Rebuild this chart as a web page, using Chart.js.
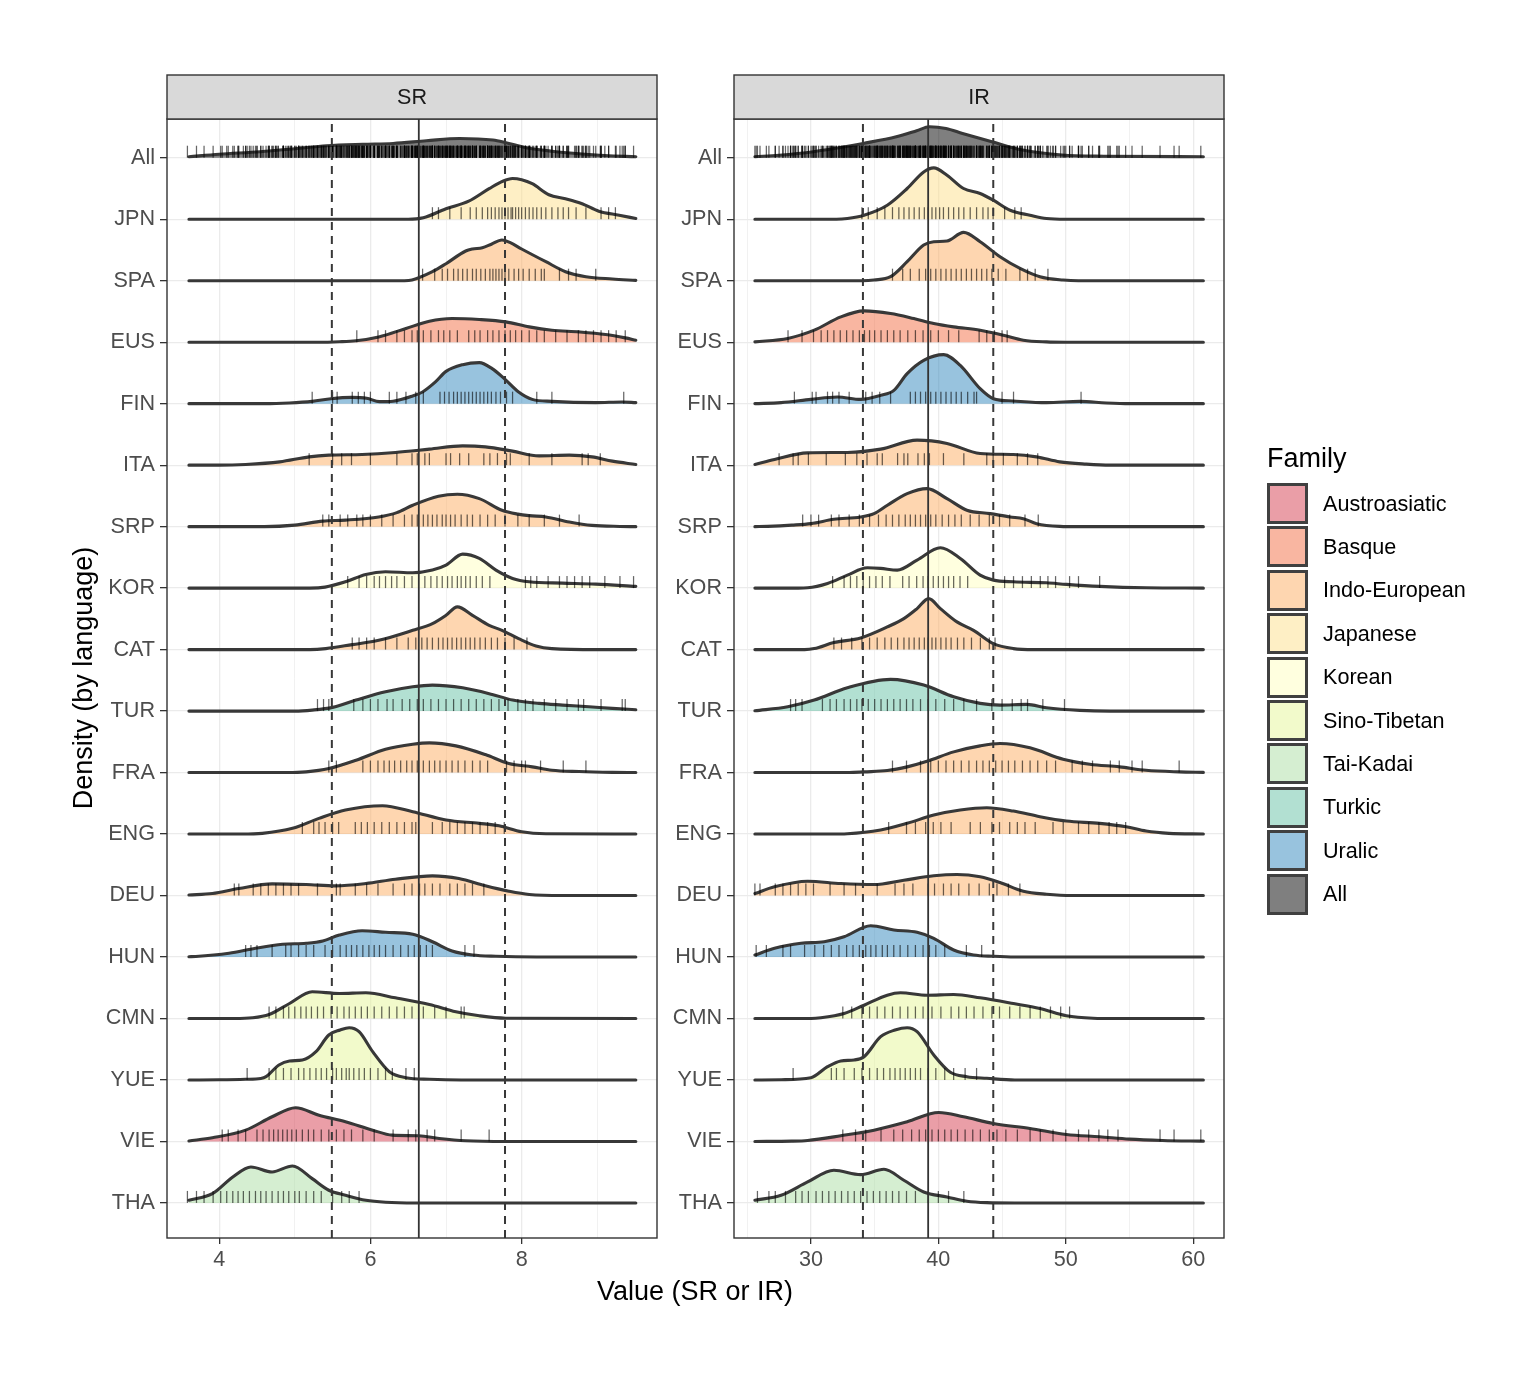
<!DOCTYPE html>
<html><head><meta charset="utf-8">
<script src="https://cdn.jsdelivr.net/npm/chart.js@4.4.0/dist/chart.umd.min.js"></script>
<style>
html,body{margin:0;padding:0;background:#fff;}
#wrap{position:relative;width:1540px;height:1374px;overflow:hidden;font-family:'Liberation Sans',Arial,Helvetica,sans-serif;}
canvas{position:absolute;left:0;top:0;}
.t{position:absolute;white-space:nowrap;color:#000;}
.key{position:absolute;box-sizing:border-box;width:41px;height:41px;border:3px solid #404040;}
</style></head><body>
<div id="wrap">
<canvas id="c1" width="1540" height="1374"></canvas>
<canvas id="c2" width="1540" height="1374"></canvas>
<div class="t" id="ytitle" style="left:-117px;top:663px;width:400px;height:30px;line-height:30px;text-align:center;font-size:27px;transform:rotate(-90deg);">Density (by language)</div>
<div class="t" id="xtitle" style="left:495px;top:1276px;width:400px;height:30px;line-height:30px;text-align:center;font-size:27px;">Value (SR or IR)</div>
<div class="t" id="ltitle" style="left:1267px;top:443px;height:30px;line-height:30px;font-size:27px;">Family</div>
<div id="legend"></div>
</div>
<script>
// ---------- categories ----------
const languages = ['All','JPN','SPA','EUS','FIN','ITA','SRP','KOR','CAT','TUR','FRA','ENG','DEU','HUN','CMN','YUE','VIE','THA'];
const languageFamily = ['All','Japanese','Indo-European','Basque','Uralic','Indo-European','Indo-European','Korean','Indo-European','Turkic','Indo-European','Indo-European','Indo-European','Uralic','Sino-Tibetan','Sino-Tibetan','Austroasiatic','Tai-Kadai'];
const families = ['Austroasiatic','Basque','Indo-European','Japanese','Korean','Sino-Tibetan','Tai-Kadai','Turkic','Uralic','All'];
const familyColors = ['#D53E4F','#F46D43','#FDAE61','#FEE08B','#FFFFBF','#E6F598','#ABDDA4','#66C2A5','#3288BD','#000000'];

// ---------- tick values ----------
const srMajorTicks = [4,6,8];
const srMinorTicks = [5,7,9];
const irMajorTicks = [30,40,50,60];
const irMinorTicks = [25,35,45,55];

// ---------- reference lines (mean and mean +/- sd) ----------
const srMeanLine = 6.64;
const srSdLines = [5.49,7.78];
const irMeanLine = 39.2;
const irSdLines = [34.08,44.31];

// ---------- SR ridge densities: [value, relative density] ----------
const srAllDensity = [[3.6,1],[4.0,3.5],[4.54,6],[5.0,9],[5.42,12],[5.9,13.5],[6.3,14.3],[6.74,17],[7.18,19.3],[7.62,17.7],[7.78,15.3],[8.06,10],[8.4,6.5],[8.72,4.3],[9.1,2.2],[9.51,1]];
const srJpnDensity = [[3.6,0],[6.5,0],[6.7,1.5],[7.0,10.5],[7.3,18],[7.57,30.5],[7.75,38],[7.88,40.7],[8.0,39.5],[8.14,35.5],[8.36,24.5],[8.58,20.5],[8.8,15.5],[9.02,8],[9.29,4],[9.51,0.7]];
const srSpaDensity = [[3.6,0],[6.45,0],[6.55,0.7],[6.82,9],[7.0,17],[7.26,29.7],[7.35,31.7],[7.48,33],[7.6,36.5],[7.74,40.7],[7.85,38],[8.0,31.7],[8.32,19],[8.58,9],[8.85,4],[9.2,1.7],[9.51,0.3]];
const srEusDensity = [[3.6,0],[5.3,0],[5.59,0.5],[5.81,1.5],[6.11,5.3],[6.47,13.7],[6.78,21],[7.08,23.7],[7.44,22.7],[7.79,20.3],[8.1,15.3],[8.4,12],[8.76,10.3],[9.11,7.7],[9.37,4.3],[9.51,2]];
const srFinDensity = [[3.6,0],[4.6,0],[4.93,0.7],[5.23,2.3],[5.48,5],[5.75,6.3],[5.95,5.5],[6.12,2],[6.3,2.5],[6.56,7.7],[6.69,11.7],[6.86,21.7],[7.0,32.3],[7.22,39],[7.44,41],[7.61,35],[7.77,25],[7.96,11.7],[8.14,4.3],[8.4,2.3],[8.98,1],[9.33,1.7],[9.51,1]];
const srItaDensity = [[3.6,0],[4.0,0],[4.35,0.7],[4.8,3.3],[5.19,8.3],[5.45,10],[5.89,10.7],[6.33,12.7],[6.78,16],[7.22,19.3],[7.52,18.3],[7.88,14],[8.23,9.3],[8.63,10],[8.93,8.3],[9.2,4],[9.51,0.7]];
const srSrpDensity = [[3.6,0],[4.6,0],[5.0,1.5],[5.37,5.5],[5.67,6.5],[6.11,9.7],[6.35,14],[6.56,21.4],[6.9,30.4],[7.15,32.4],[7.44,28],[7.74,16.4],[7.95,12.5],[8.1,11],[8.32,9.7],[8.63,4.7],[8.93,1.3],[9.3,0.2],[9.51,0]];
const srKorDensity = [[3.6,0],[5.2,0],[5.4,1],[5.67,6.3],[5.94,13.7],[6.2,16.3],[6.56,15.3],[6.82,18],[7.0,23],[7.22,34],[7.44,29.7],[7.66,18],[7.88,9.7],[8.1,6.3],[8.54,5],[8.98,4],[9.51,1.7]];
const srCatDensity = [[3.6,0],[5.2,0],[5.41,1],[5.76,5],[6.11,9.3],[6.56,19.3],[6.82,26],[7.0,34.3],[7.15,42.7],[7.35,34.3],[7.57,24.3],[7.74,19.3],[7.96,11],[8.19,3.7],[8.4,1],[9.0,0],[9.51,0]];
const srTurDensity = [[3.6,0],[5.0,0],[5.23,1],[5.5,3.7],[5.81,11],[6.2,19.3],[6.56,24.3],[6.82,26],[7.22,23.3],[7.61,16.7],[7.88,11],[8.23,7.7],[8.54,6],[8.89,4.3],[9.2,2.7],[9.51,1.3]];
const srFraDensity = [[3.6,0],[4.9,0],[5.15,0.7],[5.45,4],[5.81,12.3],[6.2,23.3],[6.56,28.3],[6.78,29.7],[7.13,26.7],[7.52,18],[7.83,9],[8.14,5.7],[8.4,2.3],[8.76,1],[9.2,0.2],[9.51,0]];
const srEngDensity = [[3.6,0],[4.3,0],[4.57,0.7],[4.97,5.7],[5.32,15.7],[5.67,24],[6.16,28.3],[6.56,22.3],[7.0,14],[7.44,10.7],[7.7,8.3],[8.0,2.3],[8.32,0.3],[9.51,0]];
const srDeuDensity = [[3.6,0.5],[3.91,2],[4.26,7],[4.7,11.7],[5.15,11],[5.54,9.7],[5.94,12],[6.33,16.3],[6.82,19.7],[7.17,17],[7.52,9.7],[7.83,4.3],[8.1,1],[8.54,0],[9.51,0]];
const srHunDensity = [[3.6,0.3],[3.69,0.5],[4.13,3.7],[4.48,8.7],[4.84,12.7],[5.15,13.7],[5.37,16],[5.59,22],[5.89,26.3],[6.2,24.7],[6.56,22.7],[6.82,15.3],[7.08,6],[7.35,2],[7.66,0.7],[8.2,0],[9.51,0]];
const srCmnDensity = [[3.6,0],[4.2,0],[4.44,0.7],[4.66,4],[4.93,15],[5.23,26.7],[5.59,25],[5.94,25.7],[6.33,20.7],[6.78,14],[7.13,6.7],[7.44,2.7],[7.79,0.3],[9.51,0]];
const srYueDensity = [[3.6,0],[4.0,0.2],[4.35,0.7],[4.55,1.5],[4.62,3.3],[4.79,15],[4.93,19],[5.1,20],[5.28,28.3],[5.45,45],[5.6,50],[5.72,52.3],[5.85,48.3],[6.03,28.3],[6.25,8.3],[6.47,2.3],[6.78,0.7],[7.2,0],[9.51,0]];
const srVieDensity = [[3.6,0.5],[3.91,3.7],[4.35,11.3],[4.7,24.7],[5.01,33.7],[5.32,26.3],[5.67,19.7],[6.03,11.3],[6.29,6.3],[6.64,5.7],[6.91,3],[7.26,0.7],[7.8,0],[9.51,0]];
const srThaDensity = [[3.6,2.7],[3.91,9.3],[4.18,26],[4.42,36],[4.7,31],[4.97,37],[5.23,24.3],[5.45,12.7],[5.67,7.7],[5.94,2.7],[6.2,0.7],[6.6,0],[9.51,0]];

// ---------- IR ridge densities ----------
const irAllDensity = [[25.6,1],[27.5,2.5],[30.2,6],[32.2,10],[34.1,14.3],[36.7,21],[38.3,27],[39.3,31],[40.6,29.3],[41.9,24.3],[44.2,16],[46.6,7.7],[49.7,2.7],[53,1.5],[60.8,1]];
const irJpnDensity = [[25.6,0],[32.0,0],[32.86,0.7],[34.17,4],[35.99,14],[37.55,30.7],[38.85,47.3],[39.64,51.3],[40.68,44],[41.98,30.7],[43.28,25.7],[44.32,19],[45.63,9],[47.19,4],[48.49,0.7],[50,0],[60.8,0]];
const irSpaDensity = [[25.6,0],[34.0,0],[34.95,0.7],[36.25,4],[37.55,19],[38.85,35.7],[39.64,39],[40.68,39.7],[41.98,48.3],[43.28,39],[44.84,24],[46.41,12.3],[47.97,4],[49.79,0.7],[51,0],[60.8,0]];
const irEusDensity = [[25.6,0.3],[28.18,3.7],[30.26,12],[32.34,25.3],[34.17,31.3],[36.25,28.7],[38.07,23.7],[39.64,18.7],[41.2,15.3],[43.28,12],[45.1,7],[46.67,2],[48.49,0.3],[50,0],[60.8,0]];
const irFinDensity = [[25.6,0],[27.66,1],[30.0,4.3],[32.08,6.7],[33.9,4.3],[35.47,8.3],[36.51,13.3],[37.55,30],[38.85,43.3],[40.42,49],[41.72,38.3],[43.28,15],[44.32,5],[45.89,2.7],[48.49,1],[51.1,2.3],[53.18,0.7],[55,0],[60.8,0]];
const irItaDensity = [[25.6,0.7],[27.14,5.7],[29.74,12.3],[32.86,12.7],[35.47,16],[38.33,25],[40.68,21.7],[43.28,11.7],[45.89,10.7],[47.71,8.3],[49.53,3.3],[51.61,1],[53.5,0],[60.8,0]];
const irSrpDensity = [[25.6,0],[26.6,0.3],[28.5,1.5],[30.0,3],[31.8,7.3],[33.9,9.7],[34.95,13],[36.0,21.4],[37.55,33],[39.11,38],[40.68,28],[42.24,16.4],[44.06,13],[45.63,9.7],[46.67,8],[47.71,3],[49.53,0.3],[51,0],[60.8,0]];
const irKorDensity = [[25.6,0],[29.0,0],[29.74,0.3],[31.3,4.7],[32.86,13],[34.43,20.3],[35.47,19.7],[36.77,18],[38.33,28],[40.16,40.3],[41.72,29.7],[43.28,13],[44.32,8],[45.89,6.3],[48.49,5.3],[50.05,3.7],[52.66,1.7],[56.3,0.3],[60.8,0]];
const irCatDensity = [[25.6,0],[29.5,0],[30.26,1],[31.8,7],[33.9,11.7],[35.99,22.7],[37.29,31],[38.33,41],[39.24,51],[40.16,41],[41.46,27.7],[42.76,19.3],[44.32,6],[45.89,1],[47.5,0],[60.8,0]];
const irTurDensity = [[25.6,0.3],[28.18,4.3],[30.26,11],[32.86,23.3],[36.25,31.7],[38.85,26],[41.2,14.3],[43.28,7.7],[44.84,6],[46.93,6.7],[48.49,3.3],[51.1,0.7],[53.5,0],[60.8,0]];
const irFraDensity = [[25.6,0],[33.0,0],[34.17,0.7],[35.99,2],[37.55,5.7],[39.11,11.3],[41.2,20.7],[43.28,26.7],[44.84,29],[47.19,24.7],[49.79,13.3],[51.88,8.3],[54.22,5.7],[56.3,2.3],[58.9,0.7],[60.8,0.2]];
const irEngDensity = [[25.6,0],[31.5,0],[32.86,0.3],[35.47,4],[37.55,10.7],[39.64,19],[41.72,24],[43.8,26.3],[45.89,23],[47.97,17.3],[50.05,13],[52.66,10.7],[54.74,7.3],[56.3,3],[58.1,0.7],[60.8,0]];
const irDeuDensity = [[25.6,2],[27.14,8.7],[29.74,14.3],[32.34,12],[34.95,11],[37.29,15.3],[39.64,19.7],[41.46,21],[43.28,18.7],[44.84,13],[46.67,4.3],[48.49,1.3],[50.5,0],[60.8,0]];
const irHunDensity = [[25.6,2],[27.14,8.7],[29.22,13.7],[31.04,15.3],[32.6,20.3],[34.69,31.3],[36.51,27],[38.33,24.7],[39.64,18.7],[41.2,7],[42.76,2],[44.32,0.7],[46,0],[60.8,0]];
const irCmnDensity = [[25.6,0],[30.0,0],[30.78,0.7],[32.6,5],[34.17,13.3],[35.99,23.3],[37.03,25.7],[39.11,23.3],[41.2,24],[43.28,20.7],[45.89,15],[47.97,10],[50.05,2.7],[52.14,0.3],[54,0],[60.8,0]];
const irYueDensity = [[25.6,0],[27.66,0.3],[30.0,2.3],[31.3,13.3],[32.34,19],[33.39,20],[34.17,23.3],[35.47,43.3],[36.6,50],[37.55,52.3],[38.33,48.3],[39.64,25],[40.94,7.7],[42.24,3.3],[43.8,1.7],[46,0],[60.8,0]];
const irVieDensity = [[25.6,0],[28.5,0.3],[29.74,1],[32.34,5.7],[34.95,11.3],[37.55,19.7],[40.03,29],[41.98,24.7],[44.32,18],[47.19,13],[50.05,7],[52.66,4.7],[55.0,2.3],[57.6,1],[60.8,0.3]];
const irThaDensity = [[25.6,2.7],[27.66,7.7],[29.74,21],[31.8,32.7],[33.9,28.3],[35.73,33.7],[37.29,22.7],[38.85,11],[40.68,6],[42.24,1.7],[43.8,0.3],[46,0],[60.8,0]];

// ---------- SR observations (rug) ----------
const srJpnRug = [6.82,6.9,7.05,7.2,7.32,7.4,7.48,7.55,7.6,7.65,7.7,7.74,7.78,7.82,7.86,7.88,7.92,7.96,8.0,8.05,8.1,8.15,8.2,8.26,8.32,8.4,8.48,8.55,8.62,8.72,8.85,9.05,9.15,9.24];
const srSpaRug = [6.69,6.85,6.95,7.02,7.1,7.16,7.22,7.28,7.35,7.4,7.46,7.52,7.58,7.62,7.66,7.7,7.74,7.78,7.83,7.9,7.96,8.02,8.1,8.18,8.26,8.3,8.5,8.62,8.72,8.98];
const srEusRug = [5.82,6.1,6.2,6.35,6.45,6.55,6.62,6.7,6.8,6.9,6.97,7.05,7.15,7.3,7.38,7.45,7.55,7.62,7.7,7.78,7.85,7.92,8.0,8.1,8.2,8.3,8.45,8.6,8.75,8.85,8.95,9.05,9.15,9.25,9.37];
const srFinRug = [5.23,5.5,5.56,5.76,5.84,5.92,6.0,6.25,6.35,6.47,6.6,6.7,6.92,6.98,7.04,7.1,7.15,7.2,7.25,7.3,7.35,7.4,7.45,7.5,7.55,7.6,7.66,7.72,7.8,7.88,8.2,8.4,9.35];
const srItaRug = [5.19,5.5,5.62,5.75,6.0,6.35,6.55,6.62,6.72,6.78,7.0,7.06,7.18,7.3,7.5,7.58,7.68,7.8,7.85,8.1,8.4,8.8,8.88,9.04];
const srSrpRug = [5.37,5.45,5.6,5.7,5.82,5.9,6.0,6.15,6.3,6.45,6.55,6.62,6.7,6.76,6.82,6.88,6.95,7.0,7.06,7.12,7.2,7.28,7.35,7.45,7.55,7.65,7.78,7.95,8.1,8.3,8.5,8.76];
const srKorRug = [5.7,5.85,5.95,6.05,6.12,6.2,6.28,6.35,6.45,6.55,6.72,6.8,6.88,6.95,7.02,7.08,7.15,7.2,7.26,7.32,7.4,7.48,7.58,8.05,8.12,8.2,8.35,8.5,8.6,8.7,8.8,8.9,9.1,9.3,9.48];
const srCatRug = [5.76,5.85,5.95,6.05,6.2,6.35,6.5,6.6,6.68,6.75,6.82,6.9,6.96,7.02,7.08,7.14,7.2,7.26,7.32,7.38,7.45,7.52,7.6,7.68,7.78,7.9,8.07];
const srTurRug = [5.3,5.38,5.45,5.78,5.9,6.0,6.1,6.22,6.3,6.42,6.52,6.62,6.7,6.8,6.9,7.0,7.1,7.2,7.3,7.4,7.5,7.6,7.7,7.82,7.95,8.05,8.15,8.3,8.45,8.6,8.75,8.82,9.05,9.33,9.37];
const srFraRug = [5.45,5.55,5.9,6.0,6.1,6.18,6.25,6.32,6.4,6.48,6.55,6.62,6.7,6.78,6.85,6.92,7.0,7.08,7.16,7.25,7.35,7.45,7.55,7.8,7.9,8.0,8.05,8.25,8.55,8.85];
const srEngRug = [5.1,5.25,5.32,5.4,5.5,5.58,5.8,5.88,5.96,6.05,6.15,6.25,6.35,6.45,6.55,6.6,6.82,6.95,7.05,7.15,7.25,7.35,7.45,7.55,7.65,7.77];
const srDeuRug = [4.2,4.26,4.45,4.55,4.65,4.75,4.85,4.95,5.05,5.3,5.55,5.6,5.8,5.95,6.1,6.3,6.45,6.55,6.65,6.72,6.82,6.92,7.05,7.15,7.25,7.35,7.5];
const srHunRug = [4.35,4.42,4.5,4.7,4.88,4.95,5.05,5.15,5.25,5.4,5.5,5.6,5.68,5.75,5.82,5.9,5.98,6.05,6.12,6.2,6.3,6.4,6.5,6.58,6.66,6.74,6.82,7.25,7.37];
const srCmnRug = [4.66,4.75,4.85,4.92,5.0,5.08,5.15,5.22,5.3,5.38,5.48,5.56,5.65,5.72,5.8,5.88,5.96,6.05,6.15,6.25,6.35,6.45,6.55,6.7,6.85,7.0,7.2,7.24];
const srYueRug = [4.37,4.66,4.75,4.85,4.95,5.05,5.12,5.2,5.28,5.35,5.42,5.5,5.55,5.62,5.68,5.72,5.78,5.85,5.92,6.0,6.1,6.2,6.29,6.47,6.58];
const srVieRug = [4.04,4.12,4.25,4.35,4.5,4.58,4.66,4.72,4.78,4.84,4.9,4.96,5.02,5.1,5.18,5.25,5.35,5.45,5.55,5.65,5.75,5.9,6.05,6.3,6.5,6.6,6.75,6.85,7.2,7.57];
const srThaRug = [3.58,3.7,3.8,3.92,4.02,4.1,4.18,4.25,4.32,4.4,4.48,4.55,4.62,4.7,4.78,4.85,4.92,5.0,5.06,5.15,5.25,5.35,5.5,5.62,5.72,5.85];

// ---------- IR observations (rug) ----------
const irJpnRug = [34.0,34.5,35.2,35.8,36.4,36.9,37.3,37.7,38.1,38.5,38.9,39.2,39.5,39.8,40.1,40.4,40.8,41.2,41.6,42.0,42.5,43.0,43.5,43.9,44.3,45.2,46.0,46.5];
const irSpaRug = [36.4,37.2,37.8,38.5,39.0,39.4,39.8,40.2,40.6,41.0,41.4,41.8,42.2,42.6,43.0,43.4,43.8,44.2,44.7,45.3,46.4,47.0,47.6,48.6];
const irEusRug = [28.2,29.3,30.2,30.8,31.3,31.8,32.3,32.8,33.3,33.8,34.2,34.6,35.0,35.5,36.0,36.5,37.0,37.6,38.2,38.8,39.4,40.0,40.8,41.6,43.2,43.8,44.4,45.0,45.4];
const irFinRug = [28.7,30.1,30.4,31.3,31.7,32.2,33.0,34.3,34.8,35.4,36.25,37.8,38.2,38.6,39.0,39.4,39.8,40.2,40.6,41.0,41.4,41.8,42.3,42.8,43.0,45.0,45.9,51.2];
const irItaRug = [27.5,28.6,29.0,29.8,31.2,32.7,33.6,34.4,35.2,35.6,36.8,37.3,37.6,38.4,38.9,39.3,40.4,42.0,43.8,44.3,45.1,46.2,47.0,47.8];
const irSrpRug = [29.35,30.0,30.6,31.6,32.2,33.0,33.8,34.6,35.3,35.9,36.4,36.9,37.4,37.8,38.2,38.6,39.0,39.4,39.8,40.3,40.8,41.3,41.8,42.5,43.2,44.0,44.8,45.6,46.8,47.84];
const irKorRug = [31.7,32.6,33.1,33.6,34.1,34.6,35.1,35.6,36.2,37.2,37.7,38.3,38.8,39.2,39.6,40.0,40.4,40.8,41.2,41.7,42.3,45.2,45.9,46.6,47.3,48.0,48.6,49.2,50.3,51.0,52.66];
const irCatRug = [31.8,32.4,33.2,34.0,34.6,35.2,35.8,36.3,36.8,37.3,37.7,38.1,38.5,38.9,39.2,39.5,39.8,40.2,40.6,41.0,41.5,42.0,42.6,43.3,44.0,44.45];
const irTurRug = [28.4,28.8,29.3,30.9,31.5,32.0,32.6,33.1,33.6,34.0,34.5,35.0,35.5,36.0,36.5,37.0,37.5,38.0,38.6,39.2,39.8,40.5,41.2,42.0,43.0,44.2,45.0,45.8,46.5,47.0,48.2,49.9];
const irFraRug = [36.4,37.5,38.6,39.4,40.0,40.6,41.2,41.8,42.4,43.0,43.5,44.0,44.5,45.0,45.5,46.0,46.6,47.2,47.8,48.5,49.2,50.5,51.3,52.1,53.5,54.2,55.2,56.0,58.9];
const irEngRug = [36.1,37.5,38.2,39.0,39.6,40.2,41.0,42.5,43.3,44.2,44.8,45.6,46.2,46.8,47.6,49.0,49.8,51.0,51.8,52.6,53.4,54.0,54.7];
const irDeuRug = [25.6,26.0,27.2,27.8,28.4,29.0,29.6,30.2,31.5,32.6,33.5,35.2,36.6,37.3,38.0,39.2,39.7,40.4,41.0,41.6,42.4,43.2,44.0,44.6,45.5,46.4];
const irHunRug = [25.7,26.5,27.8,28.4,29.5,30.3,31.0,31.6,32.2,32.8,33.3,33.8,34.3,34.7,35.1,35.6,36.0,36.5,37.0,37.6,38.2,38.8,39.3,39.8,40.5,42.2,43.4];
const irCmnRug = [32.5,33.2,34.0,34.6,35.2,35.8,36.4,37.0,37.6,38.2,38.8,39.5,40.2,41.0,41.6,42.2,42.8,43.5,44.2,44.8,45.6,46.4,47.2,48.0,48.8,49.6,50.3];
const irYueRug = [28.6,31.6,32.0,32.6,33.4,34.0,34.6,35.2,35.7,36.2,36.6,37.0,37.4,37.8,38.2,38.6,39.2,39.8,40.5,41.2,42.1,43.0];
const irVieRug = [32.5,33.5,34.3,35.5,36.5,37.2,37.9,38.5,39.0,39.5,40.0,40.5,41.0,41.5,42.1,42.7,43.3,44.0,44.6,45.3,46.2,47.2,48.0,49.0,50.0,51.0,51.8,52.6,53.3,54.1,57.4,58.5,60.6];
const irThaRug = [25.8,26.7,27.2,28.0,28.8,29.3,29.8,30.4,30.9,31.4,31.9,32.4,32.9,33.4,33.9,34.4,34.9,35.4,35.9,36.4,36.9,37.5,38.2,39.2,40.0,40.8,42.0];

// ---------- assembled per panel (same order as languages) ----------
const srDensities = [srAllDensity,srJpnDensity,srSpaDensity,srEusDensity,srFinDensity,srItaDensity,srSrpDensity,srKorDensity,srCatDensity,srTurDensity,srFraDensity,srEngDensity,srDeuDensity,srHunDensity,srCmnDensity,srYueDensity,srVieDensity,srThaDensity];
const irDensities = [irAllDensity,irJpnDensity,irSpaDensity,irEusDensity,irFinDensity,irItaDensity,irSrpDensity,irKorDensity,irCatDensity,irTurDensity,irFraDensity,irEngDensity,irDeuDensity,irHunDensity,irCmnDensity,irYueDensity,irVieDensity,irThaDensity];
const srLangRugs = [srJpnRug,srSpaRug,srEusRug,srFinRug,srItaRug,srSrpRug,srKorRug,srCatRug,srTurRug,srFraRug,srEngRug,srDeuRug,srHunRug,srCmnRug,srYueRug,srVieRug,srThaRug];
const irLangRugs = [irJpnRug,irSpaRug,irEusRug,irFinRug,irItaRug,irSrpRug,irKorRug,irCatRug,irTurRug,irFraRug,irEngRug,irDeuRug,irHunRug,irCmnRug,irYueRug,irVieRug,irThaRug];
const srRugs = [[].concat(...srLangRugs)].concat(srLangRugs);   // "All" = every observation
const irRugs = [[].concat(...irLangRugs)].concat(irLangRugs);

// ---------- drawing ----------
Chart.defaults.font.family = "'Liberation Sans', Arial, Helvetica, sans-serif";
const N = languages.length;
const ROW_SCALE = 61.47;   // density units per row spacing
const RUG_OFFSET = 0.098;  // rug glyph centre above baseline (row units)
const Y_MIN = 0.43, Y_MAX = 18.63;

function hexA(hex, a){
  const n = parseInt(hex.slice(1),16);
  return 'rgba(' + ((n>>16)&255) + ',' + ((n>>8)&255) + ',' + (n&255) + ',' + a + ')';
}

const panelDeco = {
  id:'panelDeco',
  afterDraw(chart, args, opts){
    const {ctx, chartArea:a} = chart;
    ctx.save();
    ctx.strokeStyle = '#333333'; ctx.lineWidth = 1.4;
    ctx.strokeRect(a.left, a.top, a.right-a.left, a.bottom-a.top);
    ctx.fillStyle = '#D9D9D9';
    ctx.fillRect(a.left, a.top-44, a.right-a.left, 44);
    ctx.strokeRect(a.left, a.top-44, a.right-a.left, 44);
    ctx.fillStyle = '#1A1A1A';
    ctx.font = "21.6px 'Liberation Sans', Arial, Helvetica, sans-serif";
    ctx.textAlign = 'center'; ctx.textBaseline = 'middle';
    ctx.fillText(opts.label, (a.left+a.right)/2, a.top-21);
    ctx.restore();
  }
};

function buildPanel(id, cfg){
  const datasets = [];
  languages.forEach((lang, i) => {
    const base = N - i;
    const col = familyColors[families.indexOf(languageFamily[i])];
    datasets.push({
      type:'line', label: lang,
      data: cfg.dens[i].map(p => ({x:p[0], y: base + p[1]/ROW_SCALE})),
      borderColor:'#383838', borderWidth:3.1, backgroundColor: hexA(col,0.5),
      fill:{value: base}, pointRadius:0, cubicInterpolationMode:'monotone',
      borderJoinStyle:'round', borderCapStyle:'round', order: 200 - 2*i
    });
    datasets.push({
      type:'scatter', label: lang + ' obs',
      data: cfg.rugs[i].map(v => ({x:v, y: base + RUG_OFFSET})),
      pointStyle:'line', pointRotation:90, pointRadius:6,
      pointBorderColor:'rgba(0,0,0,0.6)', pointBorderWidth:1.25,
      showLine:false, order: 199 - 2*i
    });
  });
  cfg.sd.forEach(v => datasets.push({type:'line', data:[{x:v,y:Y_MIN},{x:v,y:Y_MAX}], borderColor:'#383838', borderWidth:2, borderDash:[8,6], pointRadius:0, fill:false, order:0}));
  datasets.push({type:'line', data:[{x:cfg.mean,y:Y_MIN},{x:cfg.mean,y:Y_MAX}], borderColor:'#333333', borderWidth:1.8, pointRadius:0, fill:false, order:0});

  const allTicks = cfg.major.concat(cfg.minor).sort((a,b)=>a-b);
  const isMajor = v => cfg.major.indexOf(v) >= 0;
  return new Chart(document.getElementById(id), {
    data:{datasets},
    options:{
      responsive:false, animation:false, events:[],
      layout:{padding:{left:cfg.padL, right:cfg.padR, top:119, bottom:96}},
      plugins:{legend:{display:false}, tooltip:{enabled:false}, panelDeco:{label:cfg.label}},
      scales:{
        x:{type:'linear', min:cfg.xmin, max:cfg.xmax,
          afterBuildTicks: s => { s.ticks = allTicks.map(v => ({value:v})); },
          afterFit: s => { s.height = 40; },
          border:{display:false},
          grid:{color:'#EBEBEB', lineWidth: c => (c.tick && isMajor(c.tick.value)) ? 1.3 : 0.7,
                tickColor: c => (c.tick && isMajor(c.tick.value)) ? '#333333' : 'rgba(0,0,0,0)', tickLength:6},
          ticks:{callback: v => isMajor(v) ? String(v) : '', color:'#4D4D4D', font:{size:21.6}, padding:3, maxRotation:0, autoSkip:false}
        },
        y:{type:'linear', min:Y_MIN, max:Y_MAX,
          afterBuildTicks: s => { s.ticks = languages.map((l,i) => ({value: N - i})); },
          afterFit: s => { s.width = cfg.yw; },
          border:{display:false},
          grid:{color:'#EBEBEB', lineWidth:1.3, tickColor:'#333333', tickLength:7},
          ticks:{callback: v => languages[N - v], color:'#4D4D4D', font:{size:21.6}, padding:5, autoSkip:false}
        }
      }
    },
    plugins:[panelDeco]
  });
}

buildPanel('c1', {label:'SR', dens:srDensities, rugs:srRugs, mean:srMeanLine, sd:srSdLines,
  major:srMajorTicks, minor:srMinorTicks, xmin:3.31, xmax:9.79, padL:90, padR:883, yw:77});
buildPanel('c2', {label:'IR', dens:irDensities, rugs:irRugs, mean:irMeanLine, sd:irSdLines,
  major:irMajorTicks, minor:irMinorTicks, xmin:23.96, xmax:62.42, padL:650, padR:316, yw:84});

// ---------- legend ----------
const leg = document.getElementById('legend');
families.forEach((f, k) => {
  const top = 483 + k*43.4;
  const key = document.createElement('div');
  key.className = 'key';
  key.style.left = '1267px'; key.style.top = top + 'px';
  key.style.background = hexA(familyColors[k], 0.5);
  leg.appendChild(key);
  const lab = document.createElement('div');
  lab.className = 't';
  lab.style.cssText += 'left:1323px;top:' + (top+5.5) + 'px;height:30px;line-height:30px;font-size:21.6px;';
  lab.textContent = f;
  leg.appendChild(lab);
});
</script>
</body></html>
